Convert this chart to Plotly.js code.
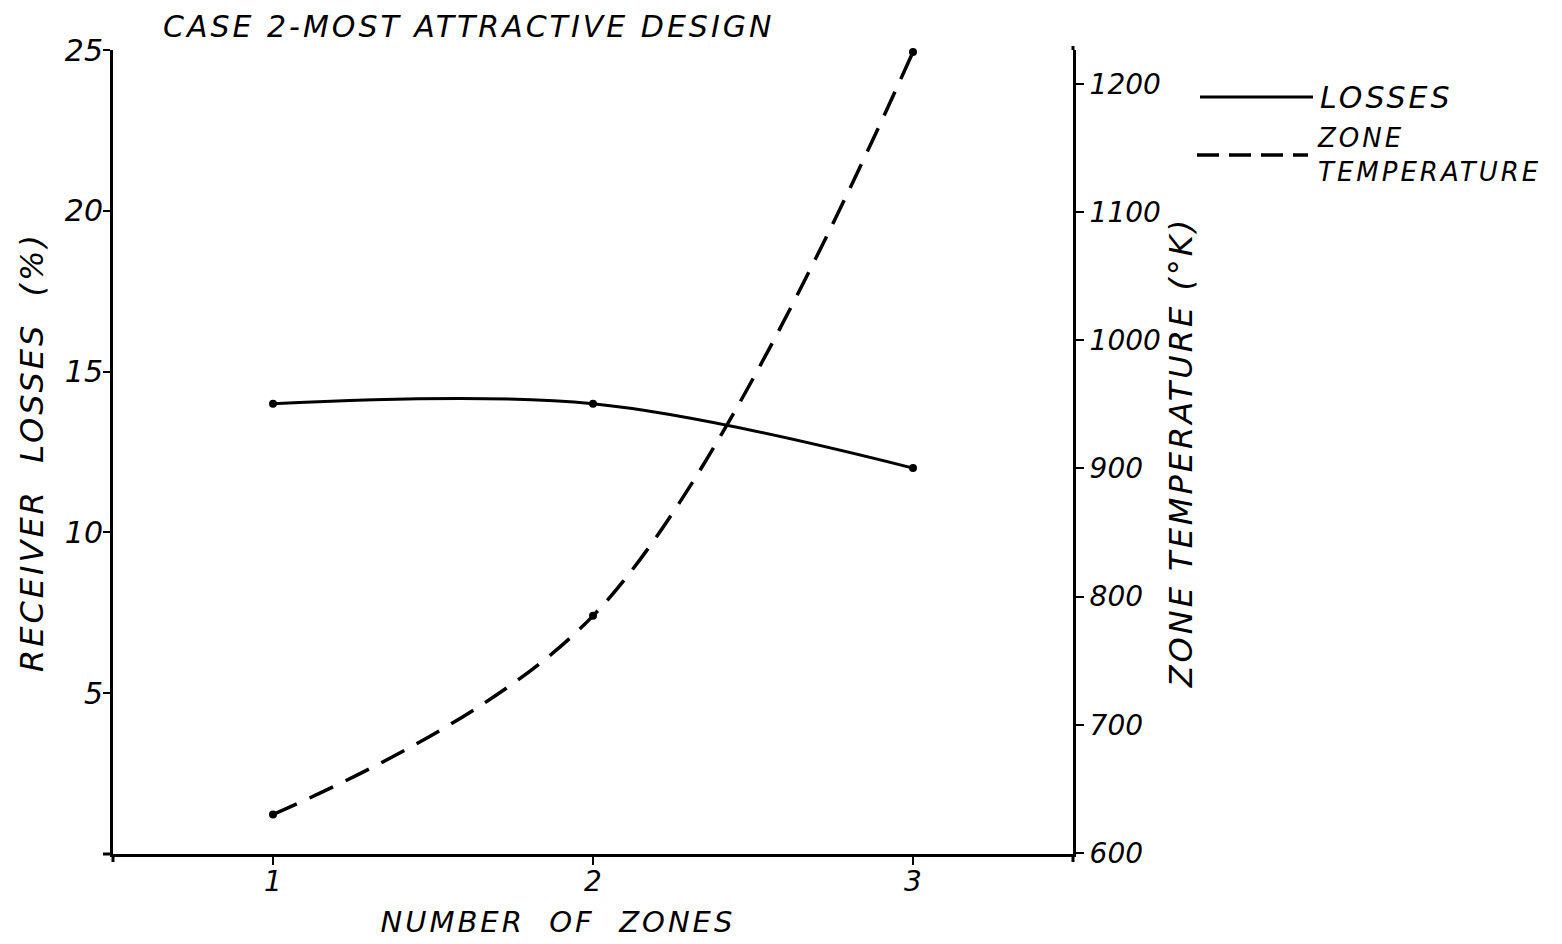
<!DOCTYPE html>
<html>
<head>
<meta charset="utf-8">
<script src="https://cdn.plot.ly/plotly-3.0.1.min.js"></script>
<style>
html,body{margin:0;padding:0;background:#fff;}
#chart{width:1562px;height:944px;}
#chart .gtitle, #chart .annotation-text, #chart .ytitle, #chart .y2title { letter-spacing: 3px; }
</style>
</head>
<body>
<div id="chart"></div>
<script>
// ---- data ----
const zones = [1, 2, 3];
const receiverLosses = [14.0, 14.0, 12.0];      // %
const zoneTemperature = [630, 785, 1225];       // deg K
const zoneTicks = [1, 2, 3];
const lossTicks = [5, 10, 15, 20, 25];
const tempTicks = [600, 700, 800, 900, 1000, 1100, 1200];
const seriesNames = ['LOSSES', 'ZONE TEMPERATURE'];

const NB = '\u00A0';
const sp = n => NB.repeat(n);
const FAM = 'DejaVu Sans, Liberation Sans, sans-serif';
const font = (size) => ({family: FAM, size: size, color: '#000', style: 'italic'});

const traces = [
  {
    x: zones, y: receiverLosses, name: seriesNames[0], yaxis: 'y',
    type: 'scatter', mode: 'lines+markers',
    line: {color: '#000', width: 3, shape: 'spline', smoothing: 1},
    marker: {color: '#000', size: 8},
    cliponaxis: false, showlegend: false
  },
  {
    x: zones, y: zoneTemperature, name: seriesNames[1], yaxis: 'y2',
    type: 'scatter', mode: 'lines+markers',
    line: {color: '#000', width: 3.5, dash: '26px,14px', shape: 'spline', smoothing: 1},
    marker: {color: '#000', size: 8},
    cliponaxis: false, showlegend: false
  }
];

// plot area in pixels: left 113, right 1073, top 50, bottom 854
const L = 113, R = 1073, T = 50, B = 854;
const px = x => (x - L) / (R - L);
const py = y => (B - y) / (B - T);

const layout = {
  width: 1562, height: 944,
  margin: {l: L, r: 1562 - R, t: T, b: 944 - B, pad: 0},
  paper_bgcolor: '#fff', plot_bgcolor: '#fff',
  font: font(28),
  showlegend: false,
  title: {
    text: 'CASE 2-MOST' + sp(1) + 'ATTRACTIVE' + sp(1) + 'DESIGN',
    xref: 'container', yref: 'container',
    x: 163 / 1562, xanchor: 'left', y: 1 - 26 / 944, yanchor: 'middle',
    font: font(30)
  },
  xaxis: {
    range: [0.5, 3.5], tickvals: zoneTicks, ticktext: zoneTicks.map(String),
    showline: true, linecolor: '#000', linewidth: 3, mirror: false,
    ticks: 'outside', ticklen: 8, tickwidth: 2, tickcolor: '#000',
    ticklabelstandoff: -8,
    showgrid: false, zeroline: false, tickfont: font(28)
  },
  yaxis: {
    range: [0, 25], tickvals: lossTicks, ticktext: lossTicks.map(String),
    showline: true, linecolor: '#000', linewidth: 3,
    ticks: 'outside', ticklen: 7, tickwidth: 2, tickcolor: '#000',
    ticklabelstandoff: -6,
    showgrid: false, zeroline: false, tickfont: font(30),
    title: {text: 'RECEIVER' + sp(2) + 'LOSSES' + sp(2) + '(%)', font: font(32), standoff: 12}
  },
  yaxis2: {
    overlaying: 'y', side: 'right',
    range: [599.2, 1226.5], tickvals: tempTicks, ticktext: tempTicks.map(String),
    showline: true, linecolor: '#000', linewidth: 3,
    ticks: 'outside', ticklen: 8, tickwidth: 2, tickcolor: '#000',
    showgrid: false, zeroline: false, tickfont: font(28),
    title: {text: 'ZONE' + sp(1) + 'TEMPERATURE' + sp(1) + '(°K)', font: font(32), standoff: 10}
  },
  shapes: [
    // small overshoots of the hand-drawn axes
    {type: 'line', xref: 'paper', yref: 'paper', x0: px(103), x1: px(113), y0: py(854), y1: py(854), line: {color: '#000', width: 3}},
    {type: 'line', xref: 'paper', yref: 'paper', x0: px(113), x1: px(113), y0: py(854), y1: py(862), line: {color: '#000', width: 3}},
    {type: 'line', xref: 'paper', yref: 'paper', x0: px(1073), x1: px(1073), y0: py(854), y1: py(862), line: {color: '#000', width: 3}},
    {type: 'line', xref: 'paper', yref: 'paper', x0: px(1073), x1: px(1073), y0: py(50), y1: py(46), line: {color: '#000', width: 3}},
    // legend samples
    {type: 'line', xref: 'paper', yref: 'paper', x0: px(1200), x1: px(1313), y0: py(97), y1: py(97), line: {color: '#000', width: 3}},
    {type: 'line', xref: 'paper', yref: 'paper', x0: px(1197), x1: px(1308), y0: py(155), y1: py(155), line: {color: '#000', width: 3.5, dash: '22px,10px'}}
  ],
  annotations: [
    // x-axis title (hand-lettered, slightly left of the axis centre)
    {xref: 'paper', yref: 'paper', x: px(558), y: py(922), xanchor: 'center', yanchor: 'middle', showarrow: false,
     text: 'NUMBER' + sp(2) + 'OF' + sp(2) + 'ZONES', font: font(29)},
    // legend texts
    {xref: 'paper', yref: 'paper', x: px(1318), y: py(97), xanchor: 'left', yanchor: 'middle', align: 'left', showarrow: false,
     text: seriesNames[0], font: font(30)},
    {xref: 'paper', yref: 'paper', x: px(1315), y: py(155), xanchor: 'left', yanchor: 'middle', align: 'left', showarrow: false,
     text: 'ZONE<br>TEMPERATURE', font: font(26)}
  ]
};

Plotly.newPlot('chart', traces, layout, {displayModeBar: false, staticPlot: true});
</script>
</body>
</html>
